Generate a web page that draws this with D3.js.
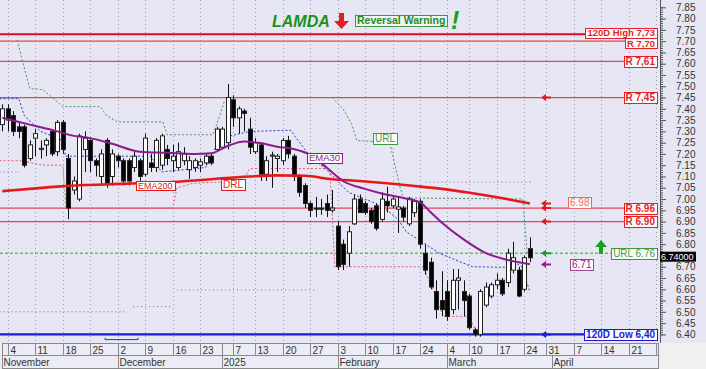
<!DOCTYPE html>
<html>
<head>
<meta charset="utf-8">
<script src="https://cdn.jsdelivr.net/npm/d3@7/dist/d3.min.js"></script>
<style>
  * { margin: 0; padding: 0; }
  body { background: #f0f0f0; }
  svg { display: block; font-family: "Liberation Sans", Arial, sans-serif; }
</style>
</head>
<body>
<script>
// daily candles, first one is the day before the Nov 4 tick (index -1)
var firstIdx = -1;
var opens = [7.33, 7.40, 7.37, 7.32, 7.32, 7.18, 7.27, 7.22, 7.24, 7.30,
  7.21, 7.34, 7.18, 7.04, 7.00, 7.22, 7.26, 7.17, 7.10, 7.26,
  7.10, 7.19, 7.17, 7.17, 7.14, 7.17, 7.11, 7.16, 7.14, 7.15,
  7.22, 7.17, 7.14, 7.17, 7.13, 7.14, 7.15, 7.16, 7.19, 7.22,
  7.23, 7.25, 7.44, 7.36, 7.39, 7.31, 7.21, 7.24, 7.11, 7.19,
  7.18, 7.17, 7.26, 7.19, 7.10, 7.06, 6.98, 6.96, 6.96, 6.98,
  6.95, 6.88, 6.80, 6.76, 6.89, 7.00, 6.98, 6.95, 6.97, 6.91,
  6.99, 6.97, 6.955, 6.96, 6.89, 6.94, 6.99, 6.76, 6.72, 6.59,
  6.55, 6.59, 6.51, 6.64, 6.59, 6.57, 6.42, 6.40, 6.53, 6.57,
  6.62, 6.64, 6.63, 6.685, 6.685, 6.60, 6.78];
var highs = [7.42, 7.42, 7.39, 7.34, 7.33, 7.26, 7.31, 7.26, 7.27, 7.31,
  7.35, 7.35, 7.20, 7.10, 7.29, 7.30, 7.27, 7.18, 7.22, 7.27,
  7.22, 7.20, 7.18, 7.18, 7.21, 7.18, 7.29, 7.20, 7.27, 7.29,
  7.24, 7.24, 7.25, 7.23, 7.19, 7.18, 7.18, 7.20, 7.20, 7.32,
  7.32, 7.51, 7.46, 7.41, 7.40, 7.36, 7.27, 7.25, 7.19, 7.21,
  7.20, 7.27, 7.28, 7.20, 7.11, 7.07, 6.99, 7.01, 7.00, 7.02,
  7.04, 6.90, 6.82, 6.88, 7.02, 7.02, 6.99, 6.96, 6.98, 7.03,
  7.055, 7.01, 7.01, 6.97, 7.01, 7.00, 7.00, 6.80, 6.74, 6.64,
  6.68, 6.64, 6.69, 6.69, 6.64, 6.58, 6.43, 6.60, 6.63, 6.63,
  6.67, 6.65, 6.78, 6.81, 6.70, 6.75, 6.83];
var lows = [7.30, 7.30, 7.28, 7.27, 7.14, 7.17, 7.19, 7.18, 7.19, 7.19,
  7.19, 7.20, 6.91, 7.02, 6.99, 7.12, 7.12, 7.10, 7.06, 7.05,
  7.06, 7.14, 7.06, 7.06, 7.12, 7.08, 7.10, 7.12, 7.12, 7.13,
  7.15, 7.12, 7.13, 7.15, 7.09, 7.12, 7.12, 7.15, 7.15, 7.21,
  7.22, 7.22, 7.32, 7.29, 7.30, 7.20, 7.20, 7.08, 7.08, 7.05,
  7.12, 7.15, 7.18, 7.08, 7.01, 6.96, 6.92, 6.92, 6.93, 6.92,
  6.94, 6.685, 6.685, 6.70, 6.885, 6.94, 6.93, 6.89, 6.86, 6.90,
  6.94, 6.96, 6.85, 6.90, 6.88, 6.92, 6.78, 6.665, 6.60, 6.47,
  6.48, 6.46, 6.49, 6.51, 6.48, 6.42, 6.39, 6.39, 6.52, 6.56,
  6.60, 6.57, 6.61, 6.67, 6.565, 6.59, 6.72];
var closes = [7.40, 7.35, 7.30, 7.30, 7.15, 7.24, 7.29, 7.225, 7.26, 7.20,
  7.34, 7.22, 6.96, 7.08, 7.28, 7.27, 7.17, 7.15, 7.20, 7.07,
  7.20, 7.17, 7.08, 7.08, 7.19, 7.10, 7.27, 7.14, 7.26, 7.28,
  7.18, 7.19, 7.21, 7.20, 7.17, 7.17, 7.165, 7.19, 7.16, 7.31,
  7.31, 7.45, 7.36, 7.40, 7.38, 7.23, 7.25, 7.11, 7.17, 7.195,
  7.19, 7.26, 7.20, 7.10, 7.03, 6.98, 6.95, 6.955, 6.955, 6.95,
  6.96, 6.70, 6.71, 6.855, 7.00, 6.94, 6.94, 6.90, 6.87, 7.00,
  6.97, 7.00, 6.965, 6.92, 7.00, 6.99, 6.80, 6.685, 6.61, 6.51,
  6.51, 6.48, 6.64, 6.65, 6.55, 6.43, 6.40, 6.59, 6.61, 6.62,
  6.64, 6.58, 6.76, 6.74, 6.57, 6.74, 6.74];

// moving averages: [day index, value]
var ema200 = [[-1, 7.035], [4, 7.045], [9, 7.055], [14, 7.062], [19, 7.066], [24, 7.07],
  [29, 7.074], [34, 7.082], [39, 7.092], [44, 7.10], [49, 7.105], [54, 7.103], [59, 7.088],
  [64, 7.08], [69, 7.07], [74, 7.058], [79, 7.045], [84, 7.028], [89, 7.008], [95, 6.98]];
var ema30 = [[-1, 7.36], [4, 7.33], [9, 7.30], [12, 7.28], [15, 7.27], [19, 7.245], [24, 7.21],
  [29, 7.205], [34, 7.20], [37, 7.203], [40, 7.235], [43, 7.255], [46, 7.248], [49, 7.232],
  [52, 7.222], [55, 7.196], [58, 7.14], [61, 7.08], [65, 7.045], [68, 7.025], [72, 7.005],
  [75, 6.985], [77, 6.94], [79, 6.895], [83, 6.82], [87, 6.76], [91, 6.73], [95, 6.711]];

// trailing lines (dashed / dotted)
var blueLine = [[-1.5, 7.445], [2, 7.445], [3, 7.37], [6, 7.30], [10, 7.26], [10.5, 7.19], [26, 7.19],
  [28, 7.12], [36, 7.14], [37.5, 7.20], [38, 7.26], [40.5, 7.28], [44, 7.30], [51.5, 7.305],
  [52.5, 7.27], [55, 7.19], [58, 7.13], [62, 7.03], [65, 7.0], [68, 6.97], [71, 6.91],
  [72.5, 6.855], [76, 6.80], [78.5, 6.76], [80.5, 6.74], [84.5, 6.70], [91.5, 6.697],
  [92.5, 6.715], [93.5, 6.70], [95, 6.59]];
var urlLine1 = [[1.7, 7.705], [2.8, 7.60], [4, 7.49], [6.4, 7.485], [10, 7.41], [16.8, 7.41],
  [18, 7.37], [19.9, 7.342], [28.2, 7.342], [29, 7.285], [37.3, 7.285], [38, 7.33], [39.5, 7.44]];
var urlLine2 = [[59, 7.45], [61, 7.40], [62.6, 7.33], [63.5, 7.26], [69.5, 7.25], [71.4, 7.05],
  [72, 7.005], [93.7, 7.0], [94.5, 6.76]];
var drlLine = [[-1.5, 7.17], [2.2, 7.17], [6.4, 7.15], [10, 7.15], [10.6, 6.96], [30, 6.96],
  [30.8, 7.05], [33.7, 7.07], [42.8, 7.08], [44, 7.135], [58.6, 7.135], [59.5, 6.70],
  [75.5, 6.70], [77.4, 6.60], [79.2, 6.48], [84, 6.48], [85.2, 6.41]];
var grayLines = [
  [[-1.5, 6.50], [21.7, 6.50]],
  [[22.8, 6.523], [30, 6.523]],
  [[30.8, 6.597], [56.3, 6.597]],
  [[-1.5, 7.12], [2.2, 7.12]],
  [[76, 7.075], [95.3, 7.075]]
];
var bracket = [[17.7, 6.385], [17.7, 6.377], [23.7, 6.377], [23.7, 6.385]];

// price levels
var resLevels = [7.73, 7.70, 7.61, 7.45, 6.96, 6.90];
var resLabels = ["120D High 7,73", "R 7,70", "R 7,61", "R 7,45", "R 6.96", "R 6.90"];
var lowLevel = 6.40, lowLabel = "120D Low 6,40";
var urlLevel = 6.76, urlLabel = "URL 6.76";
var lastClose = 6.74, lastLabel = "6.74000";
var ema200Last = 6.98, ema30Last = 6.71;
var redArrows = [7.45, 6.98, 6.96, 6.90];

// date axis
var dayTicks = [0, 5, 10, 15, 20, 25, 30, 35, 39, 41, 45, 50, 55, 60, 65, 70, 75, 80, 84, 89, 94, 98, 103, 108, 113, 118];
var dayLabels = ["4", "11", "18", "25", "2", "9", "16", "23", "", "7", "13", "20", "27", "3", "10", "17", "24", "4", "10", "17", "24", "31", "7", "14", "21", "28"];
var monthTicks = [-1.05, 20, 39, 60, 80, 99];
var monthLabels = ["November", "December", "2025", "February", "March", "April"];

var W = 706, H = 369;
var plotR = 658, plotB = 343, axisX = 660;

var x = d3.scaleLinear().domain([0, 118]).range([7.8, 656.3]);
var y = d3.scaleLinear().domain([6.40, 7.85]).range([334.4, 7.3]);

var svg = d3.select("body").append("svg").attr("width", W).attr("height", H);

svg.append("rect").attr("width", W).attr("height", plotB).attr("fill", "#e6e6f5");
svg.append("rect").attr("y", plotB).attr("width", plotR + 2).attr("height", H - plotB).attr("fill", "#ececf6");

svg.append("defs").append("clipPath").attr("id", "clip")
  .append("rect").attr("width", plotR).attr("height", plotB);
var plot = svg.append("g").attr("clip-path", "url(#clip)");

// vertical dotted grid
plot.selectAll(".grid").data(dayTicks.filter(function(d, i) { return dayLabels[i] !== ""; }))
  .enter().append("line")
  .attr("x1", function(d) { return Math.round(x(d)) + 0.5; })
  .attr("x2", function(d) { return Math.round(x(d)) + 0.5; })
  .attr("y1", 0).attr("y2", plotB)
  .attr("stroke", "#9c9cb4").attr("stroke-dasharray", "1,3");

var line = d3.line().x(function(d) { return x(d[0]); }).y(function(d) { return y(d[1]); });
var smooth = d3.line().x(function(d) { return x(d[0]); }).y(function(d) { return y(d[1]); })
  .curve(d3.curveMonotoneX);

// gray dotted support lines
grayLines.forEach(function(seg) {
  plot.append("path").attr("d", line(seg)).attr("fill", "none")
    .attr("stroke", "#707084").attr("stroke-width", 1).attr("stroke-dasharray", "1,3");
});

// horizontal levels
plot.selectAll(".res").data(resLevels).enter().append("line")
  .attr("x1", 0).attr("x2", plotR)
  .attr("y1", function(d) { return y(d); }).attr("y2", function(d) { return y(d); })
  .attr("stroke", function(d, i) { return i === 0 ? "#d8101c" : "#ea4450"; })
  .attr("stroke-width", function(d, i) { return i === 0 ? 2 : 1.2; });

plot.append("line").attr("x1", 0).attr("x2", plotR)
  .attr("y1", y(lowLevel)).attr("y2", y(lowLevel))
  .attr("stroke", "#1c1cd8").attr("stroke-width", 2.2);

plot.append("path").attr("d", line(bracket)).attr("fill", "none")
  .attr("stroke", "#3030c8").attr("stroke-width", 1);

plot.append("line").attr("x1", 0).attr("x2", 612)
  .attr("y1", y(urlLevel)).attr("y2", y(urlLevel))
  .attr("stroke", "#3c9a3c").attr("stroke-dasharray", "3,2");

// trailing lines
[urlLine1, urlLine2].forEach(function(seg) {
  plot.append("path").attr("d", line(seg)).attr("fill", "none")
    .attr("stroke", "#4a9a4a").attr("stroke-width", 1).attr("stroke-dasharray", "2,2");
});
plot.append("path").attr("d", line(drlLine)).attr("fill", "none")
  .attr("stroke", "#e85a6a").attr("stroke-width", 1).attr("stroke-dasharray", "2,2");
plot.append("path").attr("d", line(blueLine)).attr("fill", "none")
  .attr("stroke", "#2a36e0").attr("stroke-width", 1).attr("stroke-dasharray", "2,2");

// candles
var candles = closes.map(function(c, k) {
  return { i: k + firstIdx, o: opens[k], h: highs[k], l: lows[k], c: c };
});
var cg = plot.selectAll(".candle").data(candles).enter().append("g");
cg.append("line")
  .attr("x1", function(d) { return Math.round(x(d.i)) + 0.5; })
  .attr("x2", function(d) { return Math.round(x(d.i)) + 0.5; })
  .attr("y1", function(d) { return y(d.h); }).attr("y2", function(d) { return y(d.l); })
  .attr("stroke", "#111");
cg.append("rect")
  .attr("x", function(d) { return Math.round(x(d.i)) - 1.5; })
  .attr("width", 4)
  .attr("y", function(d) { return y(Math.max(d.o, d.c)); })
  .attr("height", function(d) { return Math.max(1, y(Math.min(d.o, d.c)) - y(Math.max(d.o, d.c))); })
  .attr("fill", function(d) { return d.c >= d.o ? "#ffffff" : "#000000"; })
  .attr("stroke", "#222").attr("stroke-width", 1);

// moving averages
plot.append("path").attr("d", smooth(ema200)).attr("fill", "none")
  .attr("stroke", "#e41a1a").attr("stroke-width", 2.6);
plot.append("path").attr("d", smooth(ema30)).attr("fill", "none")
  .attr("stroke", "#8c1a8c").attr("stroke-width", 2);

// boxed label helper
function boxLabel(px, py, txt, color, opts) {
  opts = opts || {};
  var size = opts.size || 10;
  var g = svg.append("g");
  var r = g.append("rect").attr("fill", opts.bg || "#ffffff")
    .attr("stroke", color).attr("stroke-width", 1);
  var t = g.append("text").text(txt).attr("font-size", size + "px")
    .attr("font-weight", opts.bold ? "bold" : "normal")
    .attr("fill", opts.textColor || color).attr("dy", "0.36em").attr("y", py);
  var w = t.node().getComputedTextLength() + 4;
  var left = opts.right ? px - w : px;
  t.attr("x", left + 2);
  r.attr("x", Math.round(left) + 0.5).attr("y", Math.round(py - size * 0.55) + 0.5)
    .attr("width", Math.round(w)).attr("height", Math.round(size * 1.05));
  return g;
}

// left-pointing arrow
function arrow(px, py, color) {
  svg.append("path")
    .attr("d", "M" + px + "," + py + " l5,-3.5 l0,2.5 l5,0 l0,2 l-5,0 l0,2.5 z")
    .attr("fill", color);
}

// the two top labels sit edge to edge, so nudge them apart a little
var resNudge = [-1.5, 2, 0, 0, 0, 0];
resLevels.forEach(function(v, i) {
  var sz = i < 2 ? 9.5 : 10;
  boxLabel(657, y(v) + resNudge[i], resLabels[i], "#e61e28", { right: true, bold: true, size: sz });
});
boxLabel(657, y(lowLevel), lowLabel, "#1c1cd8", { right: true, bold: true });
boxLabel(657, y(urlLevel), urlLabel, "#3c9a3c", { right: true });
boxLabel(568, y(ema200Last) - 1.5, "6.98", "#ee6a6a");
boxLabel(570, y(ema30Last), "6.71", "#a040a0", { textColor: "#902090" });

boxLabel(136, 185.5, "EMA200", "#e41a1a", { size: 9 });
boxLabel(221, 184, "DRL", "#e41a1a", { size: 10 });
boxLabel(307, 158, "EMA30", "#8c1a8c", { size: 9.5 });
boxLabel(373, 138, "URL", "#3c9a3c", { size: 10 });

redArrows.forEach(function(v) { arrow(541, y(v), "#e8141e"); });
arrow(541, y(urlLevel), "#1e9a1e");
arrow(541, y(ema30Last), "#9a1a9a");
arrow(541, y(lowLevel), "#1c1cd8");

// green up arrow
svg.append("path")
  .attr("d", "M595,247 L601,240 L607,247 L603,247 L603,254 L599,254 L599,247 Z")
  .attr("fill", "#1ea01e");

// title
svg.append("text").attr("x", 272).attr("y", 27).text("LAMDA")
  .attr("font-size", "16px").attr("font-weight", "bold").attr("font-style", "italic")
  .attr("fill", "#18921a");
svg.append("path")
  .attr("d", "M339,13 L344,13 L344,21 L349,21 L341.5,29 L334,21 L339,21 Z")
  .attr("fill", "#ea1c1c");
boxLabel(355, 20.5, "Reversal Warning", "#3c9a3c", { size: 10.5, bold: true, bg: "#f4f4fa", textColor: "#1e8c1e" });
svg.append("text").attr("x", 451).attr("y", 29).text("!")
  .attr("font-size", "25px").attr("font-weight", "bold").attr("font-style", "italic")
  .attr("fill", "#18a01a");

// right price axis (the 6.75 label sits under the last price tag)
var majors = d3.range(0, 30).map(function(k) { return +(6.40 + k * 0.05).toFixed(2); });
var minors = d3.range(0, 146).map(function(k) { return +(6.40 + k * 0.01).toFixed(2); });
var ax = svg.append("g").attr("transform", "translate(" + axisX + ",0)");
ax.append("g").call(d3.axisRight(y).tickValues(minors).tickSize(3).tickFormat(""));
ax.append("g").call(d3.axisRight(y).tickValues(majors).tickSize(6).tickPadding(10)
  .tickFormat(function(d) { return d === 6.75 ? "" : d3.format(".2f")(d); }));
ax.selectAll(".domain").remove();
ax.selectAll("line").attr("stroke", "#555");
ax.selectAll("text").attr("font-size", "10px").attr("fill", "#333")
  .attr("font-family", "Liberation Sans, Arial, sans-serif");
ax.append("line").attr("x1", 0.5).attr("x2", 0.5).attr("y1", 0).attr("y2", plotB)
  .attr("stroke", "#555");

// last price tag
var tagY = y(lastClose) - 1;
svg.append("rect").attr("x", 660).attr("y", tagY - 5).attr("width", 36).attr("height", 10)
  .attr("fill", "#000");
svg.append("text").attr("x", 661).attr("y", tagY).attr("dy", "0.34em").text(lastLabel)
  .attr("font-size", "9px").attr("fill", "#fff");

// date axis
var dg = svg.append("g");
dg.append("rect").attr("x", 2.5).attr("y", plotB + 0.5).attr("width", plotR - 2).attr("height", 25)
  .attr("fill", "none").attr("stroke", "#8a8a8a");
dg.append("line").attr("x1", 2.5).attr("x2", plotR).attr("y1", 355.5).attr("y2", 355.5)
  .attr("stroke", "#8a8a8a");
svg.append("defs").append("clipPath").attr("id", "dclip")
  .append("rect").attr("width", plotR).attr("height", H);
var dd = dg.append("g").attr("clip-path", "url(#dclip)");
dd.selectAll(".dt").data(dayTicks).enter().append("line")
  .attr("x1", function(d) { return Math.round(x(d)) + 0.5; })
  .attr("x2", function(d) { return Math.round(x(d)) + 0.5; })
  .attr("y1", plotB).attr("y2", 355.5).attr("stroke", "#8a8a8a");
dd.selectAll(".dl").data(dayTicks).enter().append("text")
  .attr("x", function(d) { return Math.round(x(d)) + 2.5; })
  .attr("y", 353.5)
  .text(function(d, i) { return dayLabels[i]; })
  .attr("font-size", "10px").attr("fill", "#333");
dd.selectAll(".mt").data(monthTicks.slice(1)).enter().append("line")
  .attr("x1", function(d) { return Math.round(x(d)) + 0.5; })
  .attr("x2", function(d) { return Math.round(x(d)) + 0.5; })
  .attr("y1", 355.5).attr("y2", 368.5).attr("stroke", "#8a8a8a");
dd.selectAll(".ml").data(monthTicks).enter().append("text")
  .attr("x", function(d) { return Math.round(x(d)) + 1.5; })
  .attr("y", 366)
  .text(function(d, i) { return monthLabels[i]; })
  .attr("font-size", "10px").attr("fill", "#333");
</script>
</body>
</html>
